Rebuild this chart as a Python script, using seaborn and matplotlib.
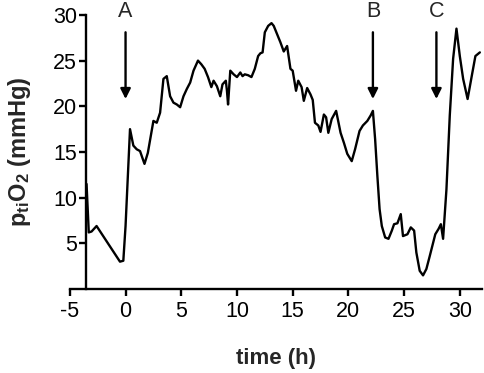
import matplotlib
matplotlib.use("Agg")
import matplotlib.pyplot as plt
import seaborn as sns
import pandas as pd

time_h = [-3.5, -3.3, -3.05, -2.6, -0.5, -0.2, 0.0, 0.4, 0.7, 1.0, 1.3, 1.7, 2.0, 2.5, 2.8, 3.1,
          3.4, 3.7, 4.0, 4.3, 4.6, 4.9, 5.2, 5.5, 5.8, 6.1, 6.5, 6.8, 7.1, 7.4, 7.7, 7.9,
          8.2, 8.5, 8.7, 9.0, 9.1, 9.2, 9.4, 9.7, 10.0, 10.3, 10.5, 10.7, 11.0, 11.3, 11.6,
          11.9, 12.1, 12.3, 12.5, 12.8, 13.1, 13.3, 13.6, 13.9, 14.2, 14.5, 14.8, 15.0,
          15.3, 15.5, 15.8, 16.0, 16.3, 16.6, 16.8, 17.0, 17.3, 17.5, 17.8, 18.0, 18.2,
          18.5, 18.9, 19.3, 19.6, 19.9, 20.3, 20.6, 21.0, 21.3, 21.7, 22.0, 22.2, 22.4,
          22.6, 22.8, 23.0, 23.3, 23.6, 23.9, 24.1, 24.4, 24.7, 24.9, 25.3, 25.6, 25.9,
          26.1, 26.4, 26.7, 27.0, 27.3, 27.8, 28.1, 28.3, 28.5, 28.8, 29.1, 29.4, 29.7,
          30.0, 30.3, 30.7, 31.1, 31.4, 31.8]
pto2 = [11.5, 6.2, 6.3, 6.9, 3.0, 3.1, 6.9, 17.5, 15.7, 15.3, 15.1, 13.7, 14.9, 18.4, 18.2, 19.3,
        23.0, 23.3, 21.1, 20.4, 20.2, 19.9, 21.1, 21.9, 22.6, 23.9, 25.0, 24.6, 24.1, 23.2, 22.1, 22.8,
        22.2, 21.1, 22.4, 22.8, 21.7, 20.2, 23.9, 23.5, 23.2, 23.7, 23.3, 23.5, 23.4, 23.2, 24.1,
        25.5, 25.8, 25.9, 28.1, 28.8, 29.1, 28.8, 27.9, 27.0, 26.0, 26.6, 24.1, 23.9,
        21.7, 22.8, 22.1, 20.6, 22.0, 21.3, 20.7, 18.2, 17.9, 17.2, 19.1, 18.8, 17.1,
        18.6, 19.5, 17.1, 16.0, 14.8, 14.0, 15.3, 17.3, 17.9, 18.4, 19.0, 19.5, 16.4,
        12.4, 8.75, 6.9, 5.65, 5.5, 6.4, 7.1, 7.2, 8.2, 5.8, 6.0, 6.75, 6.4,
        4.0, 2.0, 1.5, 2.2, 3.6, 6.0, 6.6, 7.1, 5.5, 10.9, 19.0, 25.2, 28.5,
        25.5, 23.0, 20.8, 23.5, 25.5, 25.9]

event_labels = ["A", "B", "C"]
event_times = [0.0, 22.2, 27.9]

df = pd.DataFrame({"time": time_h, "pto2": pto2})

sns.set_style("ticks")
plt.rcParams["font.family"] = ["Liberation Sans", "DejaVu Sans"]
plt.rcParams["axes.unicode_minus"] = False
plt.rcParams["mathtext.fontset"] = "custom"
plt.rcParams["mathtext.rm"] = "Liberation Sans"
plt.rcParams["mathtext.bf"] = "Liberation Sans:bold"
plt.rcParams["mathtext.it"] = "Liberation Sans:italic"

fig = plt.figure(figsize=(4.85, 3.73), dpi=100)
ax = fig.add_axes([0.144, 0.225, 0.850, 0.735])

sns.lineplot(data=df, x="time", y="pto2", ax=ax, color="black", linewidth=1.7,
             estimator=None, sort=False)

ax.set_xlim(-5, 32)
ax.set_ylim(0, 30)
ax.set_xticks([-5, 0, 5, 10, 15, 20, 25, 30])
ax.set_yticks([5, 10, 15, 20, 25, 30])
sns.despine(ax=ax)
ax.spines["left"].set_position(("data", -3.55))
ax.spines["left"].set_bounds(0, 30)
for s in ["left", "bottom"]:
    ax.spines[s].set_linewidth(1.7)
    ax.spines[s].set_color("black")
ax.tick_params(axis="both", direction="out", length=5, width=1.7, labelsize=15.5,
               colors="black")
ax.tick_params(axis="y", pad=1.5)
ax.tick_params(axis="x", pad=3.5)

ax.set_xlabel("time (h)", fontsize=16, fontweight="bold", labelpad=19)
ax.set_ylabel(r"$\mathbf{p_{ti}O_2}$ $\mathbf{(mmHg)}$", fontsize=17, labelpad=14)

for lab, t in zip(event_labels, event_times):
    ax.annotate("", xy=(t, 20.8), xytext=(t, 28.1),
                arrowprops=dict(arrowstyle="-|>,head_length=0.6,head_width=0.3",
                                color="black", lw=1.7, shrinkA=0, shrinkB=0),
                annotation_clip=False)
    ax.text(t, 30.4, lab, ha="center", va="center", fontsize=15.5, clip_on=False)

fig.savefig("out.png", dpi=100)
